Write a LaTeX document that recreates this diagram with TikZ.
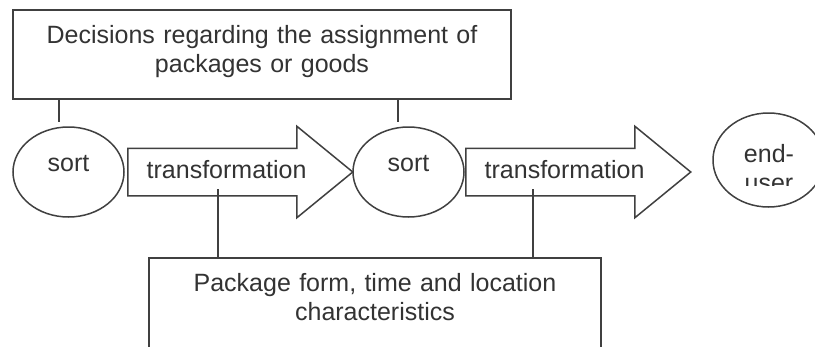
\documentclass[tikz,border=0pt]{standalone}
\usepackage{fontspec}
\setmainfont{Liberation Sans}
\usetikzlibrary{shapes.geometric,shapes.arrows}
\definecolor{ln}{RGB}{64,64,64}
\definecolor{tx}{RGB}{51,51,51}
\begin{document}
\begin{tikzpicture}[x=1pt,y=-1pt,
  every node/.style={font=\fontsize{25}{29}\selectfont, text=tx},
  boxnode/.style={draw=ln, line width=1.5pt, rectangle, inner sep=0pt, align=center},
  ellnode/.style={draw=ln, line width=1.5pt, ellipse, inner sep=0pt, minimum width=111pt, minimum height=90pt, text height=18pt, text depth=20pt},
  arrownode/.style={draw=ln, line width=1.5pt, single arrow, inner sep=0pt, text height=23pt, text depth=23pt, minimum height=225pt, minimum width=90pt, single arrow head extend=22pt, single arrow tip angle=78.6, anchor=tail},
  arrowtext/.style={anchor=base west, inner sep=0pt},
  conn/.style={draw=ln, line width=1.5pt}]
\clip (0,0) rectangle (815,346);
\fill[white] (0,0) rectangle (815,346);
% top box
\node[boxnode, text width=498pt, text height=33pt, text depth=56pt, anchor=base] (dec) at (262,43) {Decisions regarding the assignment of\\packages or goods};
% ellipses
\node[ellnode, anchor=base] (e1) at (68.5,171) {sort};
\node[ellnode, anchor=base] (e2) at (408.5,171) {sort};
\node[ellnode, minimum height=94pt, text height=0pt, text depth=0pt] (e3) at (768.5,160) {};
\begin{scope}
  \clip (700,100) rectangle (815,185);
  \node[align=center, anchor=base, inner sep=0pt] (eu) at (769,191) {end-\\user};
\end{scope}
% arrows
\node[arrownode] (a1) at (127,172) {};
\node[arrownode] (a2) at (465,172) {};
\node[arrowtext] (a1t) at ([xshift=19.5pt,yshift=-6pt]a1.tail) {transformation};
\node[arrowtext] (a2t) at ([xshift=19.5pt,yshift=-6pt]a2.tail) {transformation};
% bottom box
\node[boxnode, text width=452pt, text height=33pt, text depth=89pt, anchor=base] (pk) at (375,291) {Package form, time and location\\characteristics};
% connectors
\coordinate (t1) at ([xshift=-9.5pt]e1.north);
\coordinate (t2) at ([xshift=-10.5pt]e2.north);
\draw[conn, shorten >=4pt] (t1 |- dec.south) -- (t1);
\draw[conn, shorten >=4pt] (t2 |- dec.south) -- (t2);
\coordinate (b1) at ([xshift=91pt,yshift=-17pt]a1.tail);
\coordinate (b2) at ([xshift=68pt,yshift=-17pt]a2.tail);
\draw[conn] (b1) -- (b1 |- pk.north);
\draw[conn] (b2) -- (b2 |- pk.north);
\end{tikzpicture}
\end{document}
